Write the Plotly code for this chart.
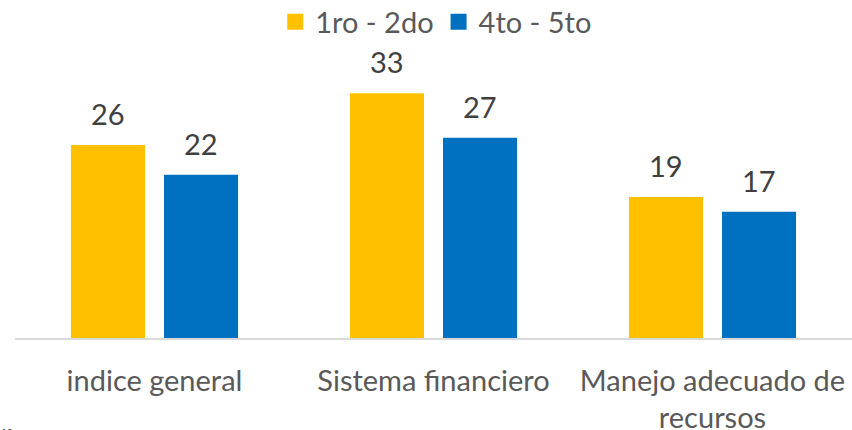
import plotly.graph_objects as go

categories = ["indice general", "Sistema financiero", "Manejo adecuado de<br>recursos"]
series_names = ["1ro - 2do", "4to - 5to"]
values_a = [26, 33, 19]
values_b = [22, 27, 17]
colors = ["#FFC000", "#0070C0"]

FONT = "Lato, 'Open Sans', sans-serif"

fig = go.Figure()
for name, vals, col in zip(series_names, [values_a, values_b], colors):
    fig.add_trace(go.Bar(
        x=categories, y=vals, name=name, marker_color=col,
        marker_line_width=0, showlegend=False, hoverinfo="skip",
    ))
    fig.add_trace(go.Scatter(
        x=[None], y=[None], mode="markers", name=name,
        marker=dict(symbol="square", size=18, color=col),
    ))

annotations = []
for vals, shift in zip([values_a, values_b], [-46.5, 46.5]):
    for c, v in zip(categories, vals):
        annotations.append(dict(
            x=c, y=v, text=str(v), xshift=shift, yshift=12,
            xanchor="center", yanchor="bottom", showarrow=False,
            font=dict(size=29, color="#404040", family=FONT)))
annotations.append(dict(text="lf", xref="paper", yref="paper", x=0, y=0,
                        xanchor="left", yanchor="top", xshift=-15, yshift=-84,
                        showarrow=False, font=dict(size=16, color="#404040", family=FONT)))

fig.update_layout(
    width=852, height=430,
    margin=dict(l=15, r=0, t=60, b=92),
    paper_bgcolor="white", plot_bgcolor="white",
    barmode="group", bargap=0.333, bargroupgap=0.204,
    font=dict(family=FONT, color="#595959"),
    legend=dict(orientation="h", xref="container", yref="container",
                x=0.512, y=0.949, xanchor="center", yanchor="middle",
                font=dict(size=29, color="#595959", family=FONT),
                itemsizing="trace", tracegroupgap=0),
    xaxis=dict(showline=True, linecolor="#D9D9D9", linewidth=1.5,
               tickfont=dict(size=29, color="#595959", family=FONT),
               ticks="", ticklabelstandoff=16, automargin=False),
    yaxis=dict(range=[0, 37.47], visible=False, showgrid=False),
    annotations=annotations,
)

fig.write_html("out.html", config={"displayModeBar": False},
               post_script="document.body.style.margin='0';")
